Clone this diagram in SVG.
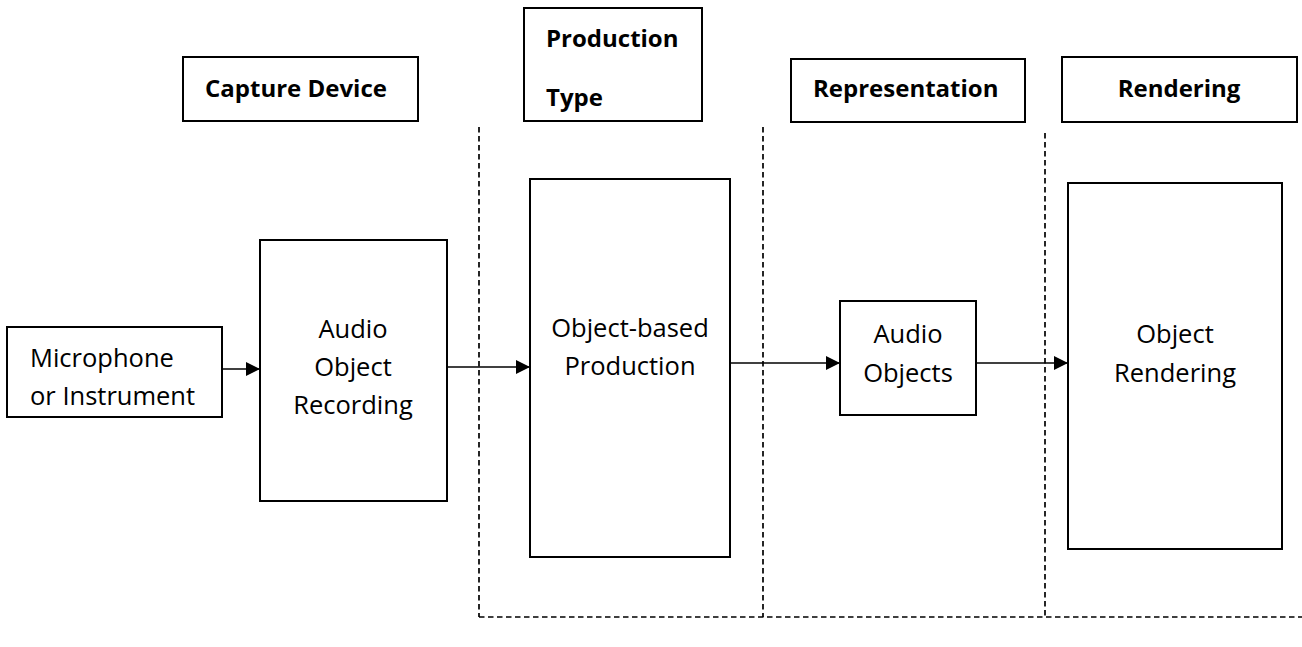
<svg xmlns="http://www.w3.org/2000/svg" width="1302" height="647" viewBox="0 0 1302 647">
  <style>
    .box { fill: #ffffff; stroke: #000000; stroke-width: 2; }
    .hdr { font-family: "Open Sans", "Liberation Sans", sans-serif; font-size: 24px; font-weight: bold; fill: #000000; }
    .lbl { font-family: "Open Sans", "Liberation Sans", sans-serif; font-size: 25.5px; fill: #000000; text-anchor: middle; }
    .lbl-left { font-family: "Open Sans", "Liberation Sans", sans-serif; font-size: 25.5px; fill: #000000; }
    .sep { fill: none; stroke: #000000; stroke-width: 1.7; stroke-dasharray: 5.5 3.5; }
    .edge { fill: none; stroke: #000000; stroke-width: 1.6; }
  </style>
  <defs>
    <marker id="arrow" viewBox="0 0 14 14" refX="14" refY="7" markerWidth="14" markerHeight="14" markerUnits="userSpaceOnUse" orient="auto">
      <path d="M0,0 L14,7 L0,14 Z" fill="#000000"/>
    </marker>
  </defs>
  <rect width="1302" height="647" fill="#ffffff"/>

  <!-- stage separators -->
  <g id="separators">
    <path class="sep" d="M479,127 V617"/>
    <path class="sep" d="M763,127 V617"/>
    <path class="sep" d="M1045,133 V617"/>
    <path class="sep" d="M479,617 H1302"/>
  </g>

  <!-- stage headers -->
  <g id="hdr-capture">
    <rect class="box" x="183" y="57" width="235" height="64"/>
    <text class="hdr" x="205" y="97">Capture Device</text>
  </g>
  <g id="hdr-production">
    <rect class="box" x="524" y="8" width="178" height="113"/>
    <text class="hdr" x="546" y="47">Production</text>
    <text class="hdr" x="546" y="106">Type</text>
  </g>
  <g id="hdr-representation">
    <rect class="box" x="791" y="59" width="234" height="63"/>
    <text class="hdr" x="813" y="97">Representation</text>
  </g>
  <g id="hdr-rendering">
    <rect class="box" x="1062" y="57" width="235" height="65"/>
    <text class="hdr" x="1179" y="97" text-anchor="middle">Rendering</text>
  </g>

  <!-- processing nodes -->
  <g id="node-mic">
    <rect class="box" x="7" y="327" width="215" height="90"/>
    <text class="lbl-left" x="30" y="367">Microphone</text>
    <text class="lbl-left" x="30" y="405">or Instrument</text>
  </g>
  <g id="node-recording">
    <rect class="box" x="260" y="240" width="187" height="261"/>
    <text class="lbl" x="353" y="338">Audio</text>
    <text class="lbl" x="353" y="376">Object</text>
    <text class="lbl" x="353" y="414">Recording</text>
  </g>
  <g id="node-production">
    <rect class="box" x="530" y="179" width="200" height="378"/>
    <text class="lbl" x="630" y="337">Object-based</text>
    <text class="lbl" x="630" y="375">Production</text>
  </g>
  <g id="node-objects">
    <rect class="box" x="840" y="301" width="136" height="114"/>
    <text class="lbl" x="908" y="343">Audio</text>
    <text class="lbl" x="908" y="382">Objects</text>
  </g>
  <g id="node-rendering">
    <rect class="box" x="1068" y="183" width="214" height="366"/>
    <text class="lbl" x="1175" y="343">Object</text>
    <text class="lbl" x="1175" y="382">Rendering</text>
  </g>

  <!-- connectors -->
  <g id="connectors">
    <path class="edge" d="M222,369 H260" marker-end="url(#arrow)"/>
    <path class="edge" d="M447,367 H530" marker-end="url(#arrow)"/>
    <path class="edge" d="M730,363 H840" marker-end="url(#arrow)"/>
    <path class="edge" d="M976,363 H1068" marker-end="url(#arrow)"/>
  </g>
</svg>
